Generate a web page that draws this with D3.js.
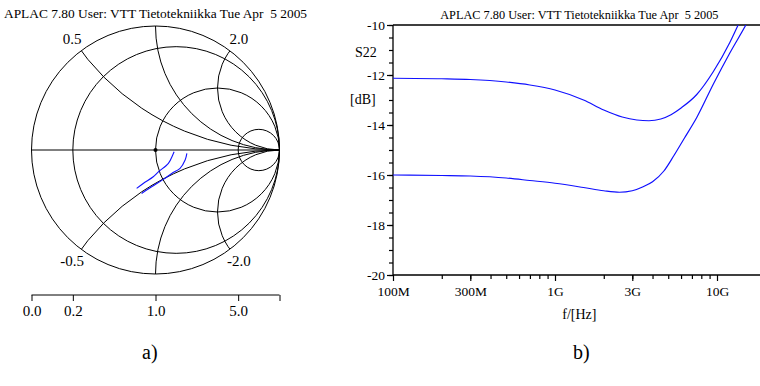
<!DOCTYPE html>
<html>
<head>
<meta charset="utf-8">
<script src="https://cdn.jsdelivr.net/npm/d3@7"></script>
<style>
  body { margin: 0; background: #fff; }
  svg { display: block; }
  text { font-family: "Liberation Serif", "Times New Roman", serif; fill: #000; }
</style>
</head>
<body>
<svg id="chart" width="760" height="386"></svg>
<script>
const TITLE = 'APLAC 7.80 User: VTT Tietotekniikka Tue Apr  5 2005';

// smith chart grid
const resistances = [0, 0.2, 1, 5];
const reactances = [0.5, 1, 2, -0.5, -1, -2];
const reactanceLabels = [0.5, 2, -0.5, -2];
const scaleTicks = [0, 0.2, 1, 5];

// S22 traces on the smith chart (reflection coefficient)
const s22aRe = [0.150, 0.139, 0.104, 0.023, -0.018, -0.099, -0.152];
const s22aIm = [-0.014, -0.040, -0.108, -0.176, -0.216, -0.270, -0.310];
const s22bRe = [0.253, 0.239, 0.198, 0.131, 0.063, -0.031, -0.112];
const s22bIm = [-0.027, -0.081, -0.148, -0.189, -0.237, -0.297, -0.351];

// S22 magnitude vs frequency (GHz, dB)
const freqUpper = [0.1, 0.2, 0.3, 0.5, 0.7, 1.0, 1.5, 2.0, 2.6, 3.2, 3.8, 4.5, 5.2, 6.0, 7.5, 9.5, 12.0, 13.6, 15];
const dbUpper = [-12.13, -12.15, -12.18, -12.28, -12.4, -12.6, -13.0, -13.4, -13.68, -13.8, -13.83, -13.76, -13.59, -13.32, -12.78, -11.86, -10.7, -9.96, -9.4];
const freqLower = [0.1, 0.2, 0.3, 0.5, 0.7, 1.0, 1.5, 2.0, 2.5, 3.0, 3.5, 4.0, 4.7, 5.4, 6.3, 7.5, 9.5, 12.0, 15.3, 17];
const dbLower = [-16.0, -16.02, -16.04, -16.12, -16.22, -16.33, -16.5, -16.63, -16.69, -16.63, -16.47, -16.27, -15.84, -15.24, -14.52, -13.7, -12.36, -11.12, -9.92, -9.35];

const xMajor = [1e8, 3e8, 1e9, 3e9, 1e10];
const xMajorLabels = ['100M', '300M', '1G', '3G', '10G'];
const yMajor = [-20, -18, -16, -14, -12, -10];

const svg = d3.select('#chart');

// ---------- left: smith chart ----------
const cx = 155.5, cy = 150, R = 124;
const sx = d3.scaleLinear().domain([-1, 1]).range([cx - R, cx + R]);
const sy = d3.scaleLinear().domain([-1, 1]).range([cy + R, cy - R]);
const rad = (v) => sx(v) - sx(0);

svg.append('text')
  .attr('x', cx).attr('y', 18)
  .attr('text-anchor', 'middle')
  .attr('font-size', 13.4)
  .style('white-space', 'pre')
  .text(TITLE);

svg.append('defs').append('clipPath').attr('id', 'unit')
  .append('circle').attr('cx', sx(0)).attr('cy', sy(0)).attr('r', rad(1));

const smith = svg.append('g')
  .attr('fill', 'none').attr('stroke', '#000').attr('stroke-width', 1);

smith.selectAll('circle.r')
  .data(resistances)
  .enter().append('circle')
  .attr('class', 'r')
  .attr('cx', (r) => sx(r / (1 + r)))
  .attr('cy', sy(0))
  .attr('r', (r) => rad(1 / (1 + r)));

smith.append('g').attr('clip-path', 'url(#unit)')
  .selectAll('circle')
  .data(reactances)
  .enter().append('circle')
  .attr('cx', sx(1))
  .attr('cy', (x) => sy(1 / x))
  .attr('r', (x) => rad(1 / Math.abs(x)));

smith.append('line')
  .attr('x1', sx(-1)).attr('x2', sx(1))
  .attr('y1', sy(0)).attr('y2', sy(0));

svg.append('circle')
  .attr('cx', sx(0)).attr('cy', sy(0)).attr('r', 2).attr('fill', '#000');

svg.selectAll('text.xl')
  .data(reactanceLabels)
  .enter().append('text')
  .attr('class', 'xl')
  .attr('text-anchor', 'middle')
  .attr('dominant-baseline', 'central')
  .attr('font-size', 15)
  .each(function (x) {
    const re = (x * x - 1) / (x * x + 1);
    const im = (2 * x) / (x * x + 1);
    d3.select(this)
      .attr('x', sx(re * 1.12))
      .attr('y', sy(im * 1.12))
      .text(x.toFixed(1));
  });

const smithLine = d3.line()
  .x((d) => sx(d[0])).y((d) => sy(d[1]))
  .curve(d3.curveCatmullRom);

[[s22aRe, s22aIm], [s22bRe, s22bIm]].forEach(([re, im]) => {
  svg.append('path')
    .datum(re.map((v, i) => [v, im[i]]))
    .attr('fill', 'none').attr('stroke', '#1010ff').attr('stroke-width', 1.1)
    .attr('d', smithLine);
});

// resistance scale below the chart
const gam = (r) => (r - 1) / (r + 1);
const scaleAxis = d3.axisBottom(sx)
  .tickValues(scaleTicks.map(gam).concat([1]))
  .tickSize(6)
  .tickPadding(4)
  .tickFormat((g, i) => (i < scaleTicks.length ? scaleTicks[i].toFixed(1) : ''));
const sa = svg.append('g').attr('transform', 'translate(0,295)').call(scaleAxis);
sa.select('.domain').attr('d', `M${sx(-1)},0H${sx(1)}`).attr('stroke', '#000');
sa.selectAll('.tick line').attr('stroke', '#000');
sa.selectAll('text').attr('font-size', 15).attr('font-family', '"Liberation Serif", serif').attr('fill', '#000');

// ---------- right: S22 dB vs frequency ----------
const plotLeft = 393, plotTop = 25, plotBottom = 275;
const x = d3.scaleLog().domain([1e8, 2e10]).range([plotLeft, plotLeft + 162 * Math.log10(200)]);
const y = d3.scaleLinear().domain([-20, -10]).range([plotBottom, plotTop]);
const plotRight = x.range()[1];

svg.append('text')
  .attr('x', (plotLeft + plotRight) / 2).attr('y', 18.5)
  .attr('text-anchor', 'middle')
  .attr('font-size', 12.3)
  .style('white-space', 'pre')
  .text(TITLE);

svg.append('clipPath').attr('id', 'plot')
  .append('rect')
  .attr('x', plotLeft).attr('y', plotTop)
  .attr('width', plotRight - plotLeft).attr('height', plotBottom - plotTop);

const styleAxis = (g) => {
  g.selectAll('.domain').remove();
  g.selectAll('.tick line').attr('stroke', '#000').attr('stroke-width', 1.2);
  g.selectAll('text').attr('font-size', 13.5).attr('font-family', '"Liberation Serif", serif').attr('fill', '#000');
};

// y axis
svg.append('g').attr('transform', `translate(${plotLeft},0)`)
  .call(d3.axisLeft(y).tickValues(d3.range(-20, -9.9, 0.5)).tickSize(4).tickFormat(''))
  .call(styleAxis);
svg.append('g').attr('transform', `translate(${plotLeft},0)`)
  .call(d3.axisLeft(y).tickValues(yMajor).tickSize(6).tickPadding(2).tickFormat((d) => String(d)))
  .call(styleAxis);

// x axis
const xMinor = [];
[1e8, 1e9, 1e10].forEach((dec) => d3.range(2, 10).forEach((m) => {
  if (dec * m <= 2e10) xMinor.push(dec * m);
}));
svg.append('g').attr('transform', `translate(0,${plotBottom})`)
  .call(d3.axisBottom(x).tickValues(xMinor).tickSize(4).tickFormat(''))
  .call(styleAxis);
svg.append('g').attr('transform', `translate(0,${plotBottom})`)
  .call(d3.axisBottom(x).tickValues(xMajor).tickSize(6).tickPadding(5)
    .tickFormat((d, i) => xMajorLabels[i]))
  .call(styleAxis);

// frame lines
svg.append('path')
  .attr('d', `M${plotLeft},${plotTop}H${plotRight}M${plotLeft},${plotTop}V${plotBottom}H${plotRight}`)
  .attr('fill', 'none').attr('stroke', '#000').attr('stroke-width', 1.3);

svg.append('text').attr('x', 355).attr('y', 57).attr('font-size', 14).text('S22');
svg.append('text').attr('x', 350).attr('y', 104).attr('font-size', 14).text('[dB]');
svg.append('text')
  .attr('x', (plotLeft + plotRight) / 2).attr('y', 319)
  .attr('text-anchor', 'middle').attr('font-size', 14)
  .text('f/[Hz]');

const dbLine = d3.line()
  .x((d) => x(d[0] * 1e9)).y((d) => y(d[1]))
  .curve(d3.curveMonotoneX);

const traces = svg.append('g').attr('clip-path', 'url(#plot)');
[[freqUpper, dbUpper], [freqLower, dbLower]].forEach(([f, v]) => {
  traces.append('path')
    .datum(f.map((fv, i) => [fv, v[i]]))
    .attr('fill', 'none').attr('stroke', '#1010ff').attr('stroke-width', 1.2)
    .attr('d', dbLine);
});

// panel captions
svg.append('text').attr('x', 142).attr('y', 359)
  .attr('font-family', '"Liberation Sans", Arial, sans-serif').attr('font-size', 20).text('a)');
svg.append('text').attr('x', 573).attr('y', 359)
  .attr('font-family', '"Liberation Sans", Arial, sans-serif').attr('font-size', 20).text('b)');
</script>
</body>
</html>
